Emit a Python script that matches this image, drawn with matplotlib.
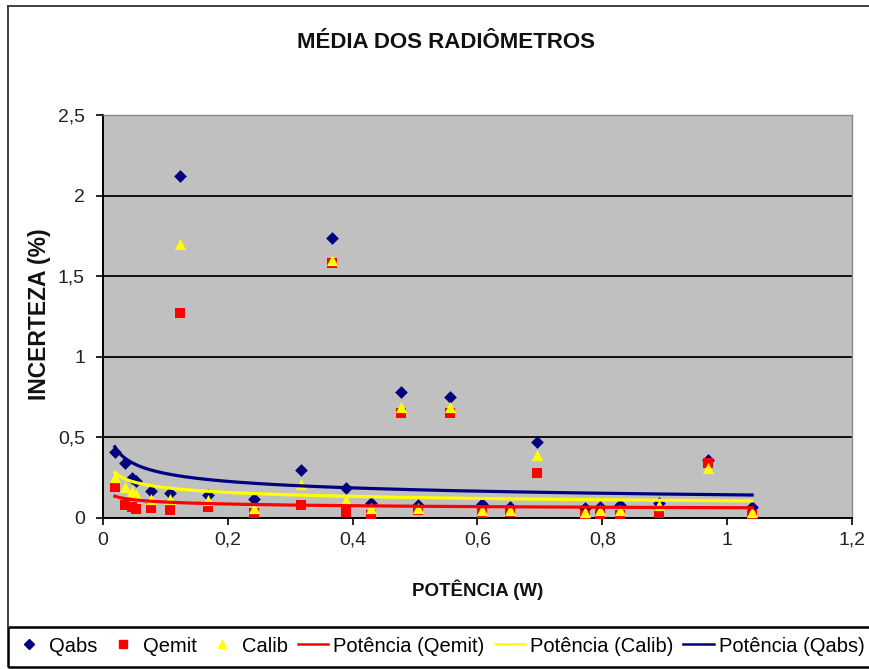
import numpy as np
import matplotlib
matplotlib.use("Agg")
import matplotlib.pyplot as plt
from matplotlib.patches import Rectangle
from matplotlib.lines import Line2D

plt.rcParams['font.family'] = ['Liberation Sans', 'DejaVu Sans']

# ---- data ----
potencia = [0.019, 0.035, 0.046, 0.053, 0.077, 0.107, 0.123, 0.168, 0.242, 0.317,
            0.367, 0.390, 0.430, 0.477, 0.505, 0.556, 0.608, 0.652, 0.695, 0.773,
            0.797, 0.828, 0.890, 0.970, 1.040]
qabs = [0.41, 0.34, 0.25, 0.23, 0.17, 0.155, 2.12, 0.145, 0.12, 0.30,
        1.74, 0.185, 0.09, 0.78, 0.08, 0.75, 0.085, 0.07, 0.47, 0.06,
        0.07, 0.08, 0.09, 0.36, 0.07]
qemit = [0.19, 0.08, 0.07, 0.055, 0.06, 0.05, 1.27, 0.07, 0.03, 0.08,
         1.58, 0.04, 0.02, 0.65, 0.05, 0.65, 0.03, 0.04, 0.28, 0.02,
         0.02, 0.02, 0.03, 0.34, 0.02]
calib = [0.255, 0.19, 0.17, 0.15, 0.12, 0.12, 1.70, 0.11, 0.06, 0.21,
         1.60, 0.11, 0.06, 0.69, 0.06, 0.69, 0.05, 0.05, 0.39, 0.04,
         0.05, 0.05, 0.08, 0.31, 0.04]

x_ticks = [0, 0.2, 0.4, 0.6, 0.8, 1.0, 1.2]
x_ticklabels = ["0", "0,2", "0,4", "0,6", "0,8", "1", "1,2"]
y_ticks = [0, 0.5, 1.0, 1.5, 2.0, 2.5]
y_ticklabels = ["0", "0,5", "1", "1,5", "2", "2,5"]

title = "MÉDIA DOS RADIÔMETROS"
xlabel = "POTÊNCIA (W)"
ylabel = "INCERTEZA (%)"

NAVY = "#000080"
RED = "#FF0000"
YELLOW = "#FFFF00"

W, H = 870, 669
fig = plt.figure(figsize=(W / 100, H / 100), dpi=100)
fig.patch.set_facecolor("white")

ax = fig.add_axes([103 / W, 1 - 518 / H, (852 - 103) / W, (518 - 115) / H])
ax.set_facecolor("#C0C0C0")

x = np.array(potencia)


def power_fit(xv, yv):
    b, loga = np.polyfit(np.log(xv), np.log(yv), 1)
    return np.exp(loga), b


xs = np.linspace(x.min(), x.max(), 300)

ax.scatter(x, qabs, marker="D", s=42, color=NAVY, zorder=3, linewidths=0)
ax.scatter(x, qemit, marker="s", s=50, color=RED, zorder=4, linewidths=0)
ax.scatter(x, calib, marker="^", s=65, color=YELLOW, zorder=5, linewidths=0)

for yv, col in [(qemit, RED), (calib, YELLOW), (qabs, NAVY)]:
    a, b = power_fit(x, np.array(yv))
    ax.plot(xs, a * xs ** b, color=col, lw=2.3, zorder=6)

ax.set_xlim(0, 1.2)
ax.set_ylim(0, 2.5)
ax.set_xticks(x_ticks)
ax.set_xticklabels(x_ticklabels)
ax.set_yticks(y_ticks)
ax.set_yticklabels(y_ticklabels)
ax.tick_params(axis="both", labelsize=14, direction="out", length=5, width=1.2,
               color="black", labelcolor="#222222")
ax.tick_params(axis="x", pad=5)
ax.tick_params(axis="y", pad=8)
ax.yaxis.grid(True, color="#101010", lw=1.4)
ax.set_axisbelow(True)
for s in ["left", "bottom"]:
    ax.spines[s].set_color("black")
    ax.spines[s].set_linewidth(1.4)
for s in ["top", "right"]:
    ax.spines[s].set_color("#8a8a8a")
    ax.spines[s].set_linewidth(1.0)

fig.text(446 / W, 1 - 43 / H, title, ha="center", va="center",
         fontsize=16, fontweight="bold", color="#111111")
fig.text(478 / W, 1 - 590 / H, xlabel, ha="center", va="center",
         fontsize=13.5, fontweight="bold", color="#111111")
fig.text(40 / W, 1 - 314 / H, ylabel, ha="center", va="center", rotation=90,
         fontsize=16.5, fontweight="bold", color="#111111")

# outer chart border (left + top)
fig.add_artist(Line2D([8 / W, 8 / W], [1 - 627 / H, 1 - 6 / H], color="#333333",
                      lw=1.3, transform=fig.transFigure))
fig.add_artist(Line2D([8 / W, 1.0], [1 - 6 / H, 1 - 6 / H], color="#333333",
                      lw=1.3, transform=fig.transFigure))
# legend box
fig.add_artist(Rectangle((8 / W, 1 - 667 / H), (880 - 8) / W, 40 / H,
                         transform=fig.transFigure, fill=False,
                         edgecolor="black", lw=1.8, clip_on=False))

handles = [
    Line2D([], [], ls="none", marker="D", ms=5, color=NAVY),
    Line2D([], [], ls="none", marker="s", ms=6, color=RED),
    Line2D([], [], ls="none", marker="^", ms=6, color=YELLOW),
    Line2D([], [], color=RED, lw=1.8),
    Line2D([], [], color=YELLOW, lw=1.8),
    Line2D([], [], color=NAVY, lw=1.8),
]
labels = ["Qabs", "Qemit", "Calib", "Potência (Qemit)", "Potência (Calib)", "Potência (Qabs)"]
fig.legend(handles, labels, loc="center left",
           bbox_to_anchor=(14 / W, 1 - 646 / H), ncol=6, frameon=False,
           fontsize=14.5, handlelength=1.5, handletextpad=0.25,
           columnspacing=0.5, borderpad=0, borderaxespad=0)

fig.savefig("out.png", dpi=100)
